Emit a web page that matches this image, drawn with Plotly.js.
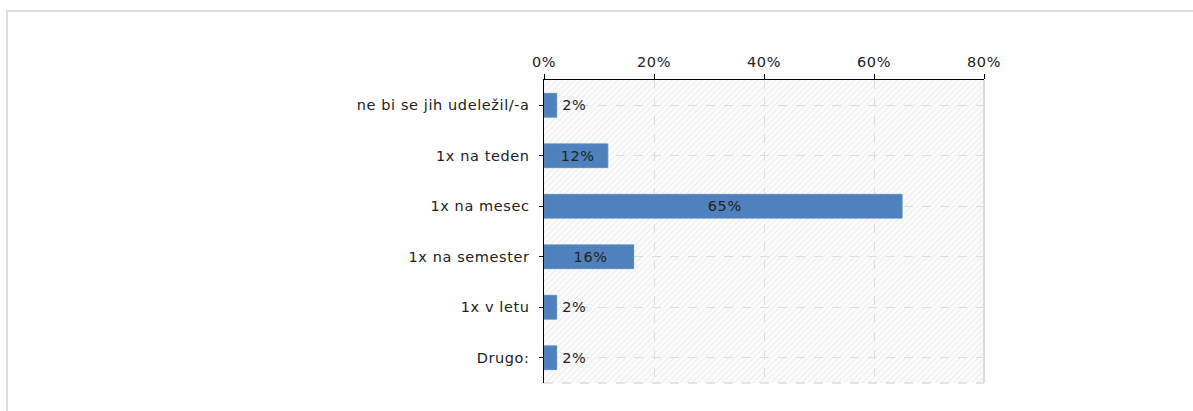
<!DOCTYPE html>
<html>
<head>
<meta charset="utf-8">
<script src="https://cdn.plot.ly/plotly-3.0.1.min.js"></script>
<style>
  html, body { margin: 0; padding: 0; width: 1193px; height: 411px; overflow: hidden; background: #fff; }
  #frame { position: absolute; left: 6px; top: 10px; width: 1400px; height: 600px; border: 2px solid #dedede; box-sizing: border-box; }
  #chart { position: absolute; left: 0; top: 0; width: 1193px; height: 411px; }
  #chart text { letter-spacing: 0.6px; }
</style>
</head>
<body>
<div id="frame"></div>
<div id="chart"></div>
<script>
const categories = ["ne bi se jih udeležil/-a", "1x na teden", "1x na mesec", "1x na semester", "1x v letu", "Drugo:"];
const values = [2.3, 11.6, 65.1, 16.3, 2.3, 2.3];
const tickValues = [0, 20, 40, 60, 80];
const tickLabels = ["0%", "20%", "40%", "60%", "80%"];

const hatch = 'data:image/svg+xml;utf8,' + encodeURIComponent(
  '<svg xmlns="http://www.w3.org/2000/svg" width="440" height="303">' +
  '<defs><pattern id="p" width="4.3" height="4.3" patternUnits="userSpaceOnUse" patternTransform="rotate(45)">' +
  '<rect width="4.3" height="4.3" fill="#fbfbfb"/><rect width="1" height="4.3" fill="#ececec"/></pattern></defs>' +
  '<rect width="440" height="303" fill="url(#p)"/></svg>');

const font = { family: "DejaVu Sans, Verdana, sans-serif", size: 14.5, color: "#222" };

const trace = {
  type: "bar",
  orientation: "h",
  y: categories,
  x: values,
  width: 0.47,
  marker: { color: "#4f81bd", line: { color: "#5a8ac4", width: 1 } },
  texttemplate: "\u2009%{x:.0f}%",
  textposition: "auto",
  insidetextanchor: "middle",
  insidetextfont: font,
  outsidetextfont: font,
  cliponaxis: false,
  hoverinfo: "none"
};

const layout = {
  width: 1193,
  height: 411,
  margin: { l: 544, r: 209, t: 80, b: 28 },
  paper_bgcolor: "rgba(0,0,0,0)",
  plot_bgcolor: "rgba(0,0,0,0)",
  font: font,
  showlegend: false,
  bargap: 0.53,
  xaxis: {
    side: "top",
    range: [0, 80],
    tickvals: tickValues,
    ticktext: tickLabels,
    showline: true,
    linecolor: "#000",
    linewidth: 1.5,
    ticks: "outside",
    ticklen: 5,
    tickcolor: "#000",
    ticklabelstandoff: 1,
    showgrid: true,
    gridcolor: "#dddddd",
    griddash: "dash",
    gridwidth: 1,
    zeroline: false,
    fixedrange: true
  },
  yaxis: {
    type: "category",
    autorange: "reversed",
    showline: true,
    linecolor: "#000",
    linewidth: 1.5,
    ticks: "outside",
    ticklen: 4,
    tickcolor: "#000",
    ticklabelstandoff: 6,
    showgrid: true,
    gridcolor: "#dddddd",
    griddash: "dash",
    zeroline: false,
    fixedrange: true
  },
  images: [{
    source: hatch, xref: "paper", yref: "paper", x: 0, y: 1, sizex: 1, sizey: 1,
    xanchor: "left", yanchor: "top", sizing: "stretch", layer: "below"
  }],
  shapes: [
    { type: "line", xref: "paper", yref: "paper", x0: 1, x1: 1, y0: 0, y1: 1, line: { color: "#dcdcdc", width: 2 }, layer: "below" },
    { type: "line", xref: "paper", yref: "paper", x0: 0, x1: 1, y0: 0, y1: 0, line: { color: "#dcdcdc", width: 1.5, dash: "dash" }, layer: "below" }
  ]
};

Plotly.newPlot("chart", [trace], layout, { displayModeBar: false, staticPlot: true });
</script>
</body>
</html>
